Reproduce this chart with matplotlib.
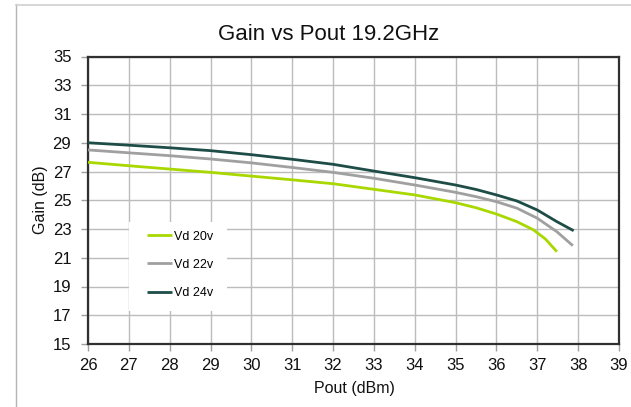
import matplotlib
matplotlib.use("Agg")
import matplotlib.pyplot as plt
from matplotlib.lines import Line2D
from matplotlib.patches import Rectangle

plt.rcParams['font.family'] = ['Liberation Sans', 'DejaVu Sans']

# Measured gain curves at 19.2 GHz for three drain voltages
pout_20v = [26, 27, 28, 29, 30, 31, 32, 33, 34, 35, 35.5, 36, 36.5, 36.9, 37.2, 37.48]
gain_20v = [27.64, 27.4, 27.17, 26.94, 26.68, 26.42, 26.15, 25.76, 25.37, 24.83,
            24.48, 24.04, 23.51, 22.95, 22.3, 21.42]

pout_22v = [26, 27, 28, 29, 30, 31, 32, 33, 34, 35, 35.5, 36, 36.5, 37, 37.48, 37.87]
gain_22v = [28.5, 28.3, 28.1, 27.87, 27.6, 27.28, 26.94, 26.53, 26.06, 25.55,
            25.25, 24.9, 24.45, 23.75, 22.81, 21.84]

pout_24v = [26, 27, 28, 29, 30, 31, 32, 33, 34, 35, 35.5, 36, 36.5, 37, 37.48, 37.89]
gain_24v = [29.0, 28.83, 28.65, 28.45, 28.17, 27.85, 27.5, 27.03, 26.57, 26.06,
            25.75, 25.37, 24.95, 24.32, 23.51, 22.88]

series_labels = ['Vd 20v', 'Vd 22v', 'Vd 24v']
series_colors = ['#a8d800', '#a0a0a0', '#1e4d48']

x_ticks = list(range(26, 40))
y_ticks = list(range(15, 36, 2))

W, H = 631, 407
fig = plt.figure(figsize=(W / 100, H / 100), dpi=100)

# outer chart frame (open to the right and bottom)
fig.add_artist(Line2D([15.5 / W, 15.5 / W], [0, 1 - 4 / H], transform=fig.transFigure,
                      color='#b5b5b5', lw=1.0))
fig.add_artist(Line2D([15.5 / W, 1], [1 - 4.5 / H, 1 - 4.5 / H], transform=fig.transFigure,
                      color='#d0d0d0', lw=1.2))

left, right, top, bottom = 88, 619, 56.5, 344
aw, ah = right - left, bottom - top
ax = fig.add_axes([left / W, 1 - bottom / H, aw / W, ah / H])


def ax_xy(px, py):
    """Pixel position (from top-left of the figure) to axes fraction."""
    return (px - left) / aw, (bottom - py) / ah


for px, gy, lab, col in zip([pout_20v, pout_22v, pout_24v],
                            [gain_20v, gain_22v, gain_24v],
                            series_labels, series_colors):
    ax.plot(px, gy, color=col, lw=2.0, label=lab, solid_capstyle='butt', zorder=3)

ax.set_xlim(26, 39)
ax.set_ylim(15, 35)
ax.set_xticks(x_ticks)
ax.set_yticks(y_ticks)
ax.grid(True, color='#bcbcbc', lw=1.0)
ax.set_axisbelow(True)
for s in ax.spines.values():
    s.set_color('#303030')
    s.set_linewidth(1.6)
ax.tick_params(axis='both', direction='out', length=5, width=1, color='#a0a0a0',
               labelsize=12, labelcolor='#111111')
ax.tick_params(axis='x', pad=5)
ax.tick_params(axis='y', pad=7)

ax.set_xlabel('Pout (dBm)', fontsize=11.5, color='#111111')
ax.set_ylabel('Gain (dB)', fontsize=11.5, color='#111111')
ax.xaxis.set_label_coords(*ax_xy(354, 388))
ax.yaxis.set_label_coords(*ax_xy(41, 200))
ax.xaxis.label.set_va('center')
ax.yaxis.label.set_va('center')

fig.text(329 / W, 1 - 34 / H, 'Gain vs Pout 19.2GHz', ha='center', va='center',
         fontsize=16, color='#111111')

# white panel behind the legend, hiding the grid there
bx0, by0 = ax_xy(129, 311)
bx1, by1 = ax_xy(227, 221.5)
ax.add_patch(Rectangle((bx0, by0), bx1 - bx0, by1 - by0, transform=ax.transAxes,
                       facecolor='white', edgecolor='none', zorder=1.5))

leg = ax.legend(loc='upper left', bbox_to_anchor=ax_xy(147, 230.5),
                frameon=False, fontsize=9, handlelength=2.0, handletextpad=0.15,
                labelspacing=1.3, borderpad=0, borderaxespad=0)

fig.savefig('out.png', dpi=100, facecolor='white')
